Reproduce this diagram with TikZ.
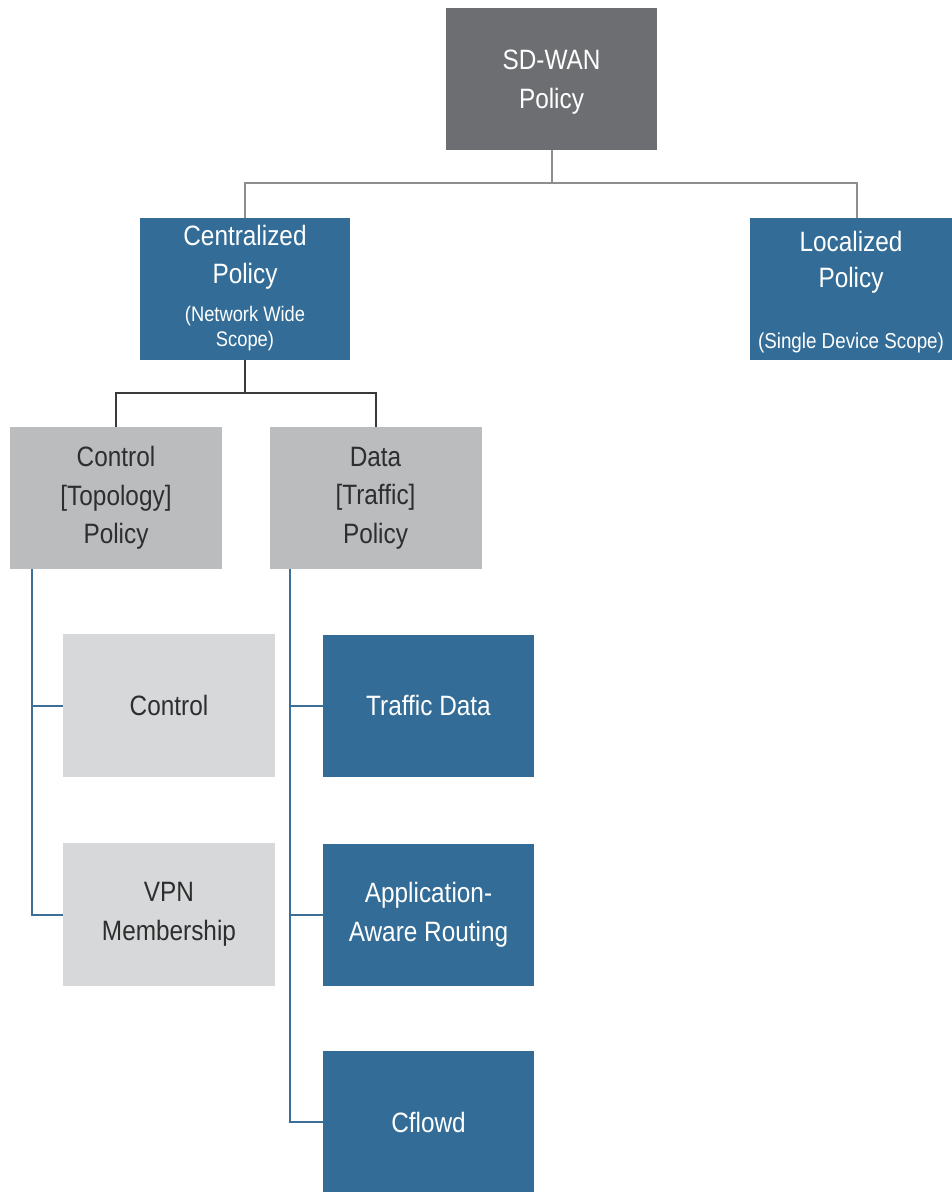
\documentclass[tikz,border=0pt]{standalone}
\usepackage{fontspec}
\setmainfont{Liberation Sans}[FakeStretch=0.87]
\usetikzlibrary{calc}
\definecolor{sdgray}{HTML}{6D6E71}
\definecolor{cblue}{HTML}{336D97}
\definecolor{midgray}{HTML}{BBBCBE}
\definecolor{lightgray}{HTML}{D7D8D9}
\definecolor{topline}{HTML}{8E8E8E}
\definecolor{darkline}{HTML}{3A3A3A}
\definecolor{blueline}{HTML}{3D6F96}
\definecolor{darktext}{HTML}{2E2E2E}
\tikzset{
  box/.style={inner sep=0pt, outer sep=0pt, align=center, minimum width=#1*0.75pt},
  box/.default=211,
  bigf/.style={font=\fontsize{21}{29}\selectfont},
  sdbox/.style={box=211, minimum height=142*0.75pt, fill=sdgray, text=white, bigf},
  bluebox/.style={box=#1, minimum height=142*0.75pt, fill=cblue, text=white, bigf},
  bluebox/.default=211,
  graybox/.style={box=212, minimum height=142*0.75pt, fill=midgray, text=darktext, bigf},
  lgraybox/.style={box=212, minimum height=143*0.75pt, fill=lightgray, text=darktext, bigf},
  tline/.style={draw=topline, line width=1.5pt},
  dline/.style={draw=darkline, line width=1.5pt},
  bline/.style={draw=blueline, line width=1.5pt},
}
\begin{document}
\begin{tikzpicture}[x=0.75pt,y=-0.75pt]
\useasboundingbox (0,0) rectangle (952,1192);
% nodes
\node[sdbox] (sd) at (551.5,79) {};
\node[text=white, bigf, align=center] at ([yshift=-3*0.75pt]sd.center) (sdtext) {SD-WAN\\Policy};
\node[bluebox=210] (cent) at (245,289) {};
\node[text=white, bigf, align=center] (centtext) at ([yshift=1*0.75pt]cent.center) {Centralized\\Policy\\[-0.5pt]{\fontsize{15.8}{18}\selectfont(Network Wide}\\[-10.5pt]{\fontsize{15.8}{18}\selectfont Scope)}};
\node[bluebox=202] (loc) at (851,289) {};
\node[text=white, bigf, align=center, font=\fontsize{21}{27}\selectfont] (loctext) at ([yshift=-3*0.75pt]loc.center) {Localized\\Policy\\[19pt]{\fontsize{16.2}{20}\selectfont(Single Device Scope)}};
\node[graybox] (cpol) at (116,498) {Control\\{[}Topology{]}\\Policy};
\node[graybox] (dpol) at (375.5,498) {Data\\{[}Traffic{]}\\Policy};
\node[lgraybox] (ctrl) at (169,705.5) {Control};
\node[lgraybox] (vpn) at (169,914.5) {VPN\\Membership};
\node[bluebox] (traf) at (428.5,705.5) {Traffic Data};
\node[bluebox] (app) at (428.5,914.5) {Application-\\Aware Routing};
\node[bluebox] (cflow) at (428.5,1122) {Cflowd};
% connectors
\draw[tline] (sd.south) -- ++(0,33) -| (cent.north);
\draw[tline] (sd.south) -- ++(0,33) -| ([xshift=6*0.75pt]loc.north);
\draw[dline] (cent.south) -- ++(0,33) -| (cpol.north);
\draw[dline] (cent.south) -- ++(0,33) -| (dpol.north);
\draw[bline] ($(cpol.south west)+(22,0)$) |- (ctrl.west);
\draw[bline] ($(cpol.south west)+(22,0)$) |- (vpn.west);
\draw[bline] ($(dpol.south west)+(20,0)$) |- (traf.west);
\draw[bline] ($(dpol.south west)+(20,0)$) |- (app.west);
\draw[bline] ($(dpol.south west)+(20,0)$) |- (cflow.west);
\end{tikzpicture}
\end{document}
